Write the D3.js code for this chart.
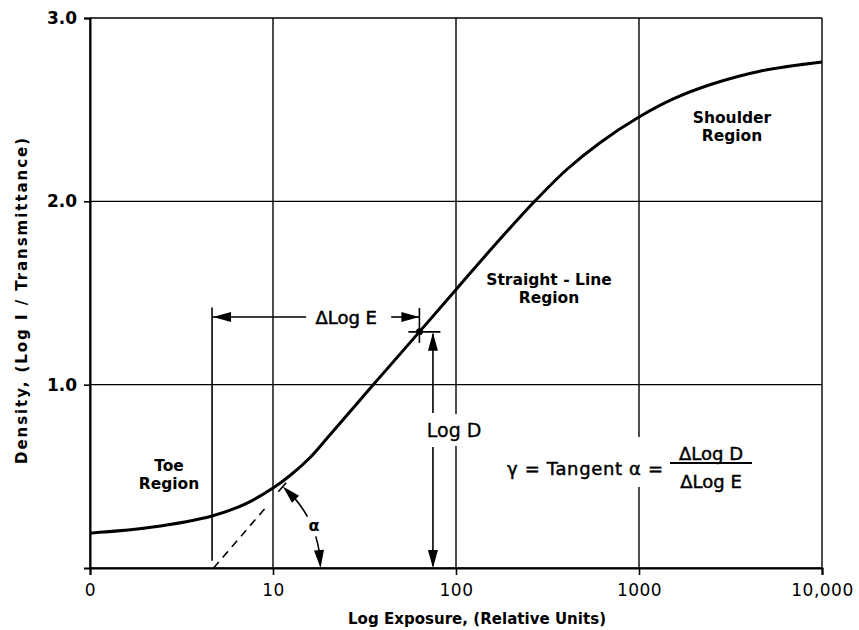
<!DOCTYPE html>
<html>
<head>
<meta charset="utf-8">
<script src="https://cdn.jsdelivr.net/npm/d3@7"></script>
<style>
  html, body { margin: 0; padding: 0; background: #fff; }
  svg text { font-family: "DejaVu Sans", Lato, sans-serif; font-weight: 700; fill: #000; }
</style>
</head>
<body>
<svg id="chart" width="859" height="630"></svg>
<script>
// ---- Data (log10 exposure, density) ----
const xTickValues = [0, 1, 2, 3, 4];
const xTickLabels = ["0", "10", "100", "1000", "10,000"];
const yTickValues = [1, 2, 3];
const yTickLabels = ["1.0", "2.0", "3.0"];

const curveLogE = [0, 0.333, 0.667, 0.85, 1.0, 1.1, 1.2, 1.3, 1.557, 1.8, 2.01, 2.2, 2.43, 2.607, 2.787, 3.0, 3.19, 3.4, 3.66, 4.0];
const curveDensity = [0.19, 0.222, 0.284, 0.35, 0.436, 0.51, 0.6, 0.713, 1.01, 1.288, 1.53, 1.748, 2.0, 2.175, 2.32, 2.46, 2.56, 2.64, 2.71, 2.76];

// annotation anchors (data units)
const gammaPoint = [1.8, 1.288];
const deltaEStart = 0.667;
const deltaEY = 1.369;
const logDx = 1.874;
const tangentFoot = [0.675, 0.0];
const tangentEnd = [0.973, 0.344];

const svg = d3.select("#chart");
const x = d3.scaleLinear().domain([0, 4]).range([90, 822]);
const y = d3.scaleLinear().domain([0, 3]).range([568, 18]);

const g = svg.append("g");

// grid
g.selectAll("line.vg").data(xTickValues).join("line")
  .attr("x1", d => x(d)).attr("x2", d => x(d))
  .attr("y1", y(0)).attr("y2", y(3))
  .attr("stroke", "#000").attr("stroke-width", 1.4);
g.selectAll("line.hg").data([0].concat(yTickValues)).join("line")
  .attr("x1", x(0)).attr("x2", x(4))
  .attr("y1", d => y(d)).attr("y2", d => y(d))
  .attr("stroke", "#000").attr("stroke-width", 1.4);

// axes
const xAxis = d3.axisBottom(x).tickValues(xTickValues).tickFormat((d, i) => xTickLabels[i]).tickSize(7).tickPadding(9);
const yAxis = d3.axisLeft(y).tickValues(yTickValues).tickFormat((d, i) => yTickLabels[i]).tickSize(6).tickPadding(7);
const gx = g.append("g").attr("transform", `translate(0,${y(0)})`).call(xAxis);
const gy = g.append("g").attr("transform", `translate(${x(0)},0)`).call(yAxis);
[gx, gy].forEach(a => {
  a.select(".domain").attr("stroke", "#000").attr("stroke-width", 2);
  a.selectAll(".tick line").attr("stroke", "#000").attr("stroke-width", 1.6);
});
gx.selectAll(".tick text").style("font-size", "17px").style("font-weight", "400")
  .style("letter-spacing", "0.5px").attr("dy", "0.71em");
gy.selectAll(".tick text").style("font-size", "17px").style("font-weight", "700");

// axis titles
svg.append("text").attr("x", 477).attr("y", 624).attr("text-anchor", "middle")
  .attr("textLength", 258).attr("lengthAdjust", "spacing")
  .style("font-size", "15px").text("Log Exposure, (Relative Units)");
svg.append("text").attr("transform", "translate(27,301) rotate(-90)").attr("text-anchor", "middle")
  .attr("textLength", 326).attr("lengthAdjust", "spacing")
  .style("font-size", "15px").text("Density, (Log I / Transmittance)");

// characteristic curve
const pts = curveLogE.map((d, i) => [d, curveDensity[i]]);
g.append("path").datum(pts)
  .attr("d", d3.line().x(d => x(d[0])).y(d => y(d[1])).curve(d3.curveCatmullRom.alpha(0.5)))
  .attr("fill", "none").attr("stroke", "#000").attr("stroke-width", 3);

// helpers
function arrowHead(tipX, tipY, angle, len = 18, half = 5) {
  const bx = tipX - len * Math.cos(angle), by = tipY - len * Math.sin(angle);
  const px = -Math.sin(angle) * half, py = Math.cos(angle) * half;
  g.append("path")
    .attr("d", `M${tipX},${tipY}L${bx + px},${by + py}L${bx - px},${by - py}Z`)
    .attr("fill", "#000");
}
function seg(x1, y1, x2, y2, w = 1.6, dash = null) {
  const l = g.append("line").attr("x1", x1).attr("y1", y1).attr("x2", x2).attr("y2", y2)
    .attr("stroke", "#000").attr("stroke-width", w);
  if (dash) l.attr("stroke-dasharray", dash);
}

// Delta Log E
const xs = x(deltaEStart), xe = x(gammaPoint[0]), ye = y(deltaEY);
seg(xs, y(1.421), xs, y(0.04));
seg(xs, ye, x(1.181), ye);
arrowHead(xs + 1, ye, Math.PI);
seg(x(1.646), ye, xe, ye);
arrowHead(xe, ye, 0);
seg(xe, ye - 9, xe, y(gammaPoint[1]) + 11);
g.append("text").attr("x", x(1.40)).attr("y", ye + 7).attr("text-anchor", "middle")
  .style("font-size", "18px").style("font-weight", "400").style("stroke", "#000").style("stroke-width", "0.5px")
  .text("\u0394Log E");

// point marker
const gpX = x(gammaPoint[0]), gpY = y(gammaPoint[1]);
g.append("circle").attr("cx", gpX).attr("cy", gpY).attr("r", 3.5).attr("fill", "#000");
seg(gpX - 11, gpY, gpX + 21, gpY);

// Log D arrows
const lx = x(logDx);
seg(lx, gpY + 2, lx, y(0.845));
arrowHead(lx, gpY + 1, -Math.PI / 2);
seg(lx, y(0.66), lx, y(0) - 2);
arrowHead(lx, y(0), Math.PI / 2);
g.append("rect").attr("x", x(1.815)).attr("y", y(0.845) + 1).attr("width", 60).attr("height", y(0.66) - y(0.845) - 2).attr("fill", "#fff");
g.append("text").attr("x", x(1.99)).attr("y", y(0.752) + 7).attr("text-anchor", "middle")
  .style("font-size", "19px").style("font-weight", "400").style("stroke", "#000").style("stroke-width", "0.3px")
  .text("Log D");

// dashed tangent
seg(x(tangentFoot[0]), y(tangentFoot[1]), x(tangentEnd[0]), y(tangentEnd[1]), 1.6, "8,6");

// alpha arc (angle between tangent and exposure axis)
const cx = x(tangentFoot[0]), cy = y(0);
const R = 107;
const a0 = -Math.atan2(cy - y(0.44), x(1.05) - cx);
const arcPt = a => [cx + R * Math.cos(a), cy + R * Math.sin(a)];
const headAng = 18 / R;
const aMid1 = -0.5, aMid2 = -0.3;
const arcPath = (a1, a2) => {
  const p = d3.path();
  p.arc(cx, cy, R, a1, a2, false);
  return p.toString();
};
g.append("path").attr("d", arcPath(a0 + headAng - 0.02, aMid1)).attr("fill", "none").attr("stroke", "#000").attr("stroke-width", 1.6);
g.append("path").attr("d", arcPath(aMid2, -headAng + 0.02)).attr("fill", "none").attr("stroke", "#000").attr("stroke-width", 1.6);
const tipT = arcPt(a0);
arrowHead(tipT[0], tipT[1], a0 - Math.PI / 2 + headAng / 2, 18, 5);
const tipB = arcPt(0);
arrowHead(tipB[0], tipB[1], Math.PI / 2 - headAng / 2, 18, 5);
const tb1 = [tipT[0] - 7 * Math.cos(a0), tipT[1] - 7 * Math.sin(a0)];
const tb2 = [tipT[0] + 5 * Math.cos(a0), tipT[1] + 5 * Math.sin(a0)];
seg(tb1[0], tb1[1], tb2[0], tb2[1], 1.6);
const aLab = arcPt(-0.4);
g.append("text").attr("x", aLab[0] + 2).attr("y", aLab[1] + 5).attr("text-anchor", "middle")
  .style("font-size", "16px").style("font-weight", "700").text("\u03b1");

// region labels
function label(lines, cxp, cyp, size = 15.5) {
  const t = g.append("text").attr("text-anchor", "middle").style("font-size", size + "px");
  lines.forEach((s, i) => t.append("tspan").attr("x", cxp).attr("y", cyp + i * 18).text(s));
}
label(["Toe", "Region"], 169, 471);
label(["Straight - Line", "Region"], 549, 285);
label(["Shoulder", "Region"], 732, 123);

// gamma equation
g.append("rect").attr("x", 505).attr("y", 437).attr("width", 250).attr("height", 50).attr("fill", "#fff");
const eqStyle = s => s.style("font-size", "18px").style("font-weight", "400").style("stroke", "#000").style("stroke-width", "0.45px");
eqStyle(g.append("text").attr("x", 507).attr("y", 475)
  .attr("textLength", 156).attr("lengthAdjust", "spacing")
  .text("\u03b3 = Tangent \u03b1 ="));
eqStyle(g.append("text").attr("x", 711).attr("y", 460).attr("text-anchor", "middle").text("\u0394Log D"));
eqStyle(g.append("text").attr("x", 711).attr("y", 488).attr("text-anchor", "middle").text("\u0394Log E"));
seg(670, 463, 752, 463, 1.8);
</script>
</body>
</html>
